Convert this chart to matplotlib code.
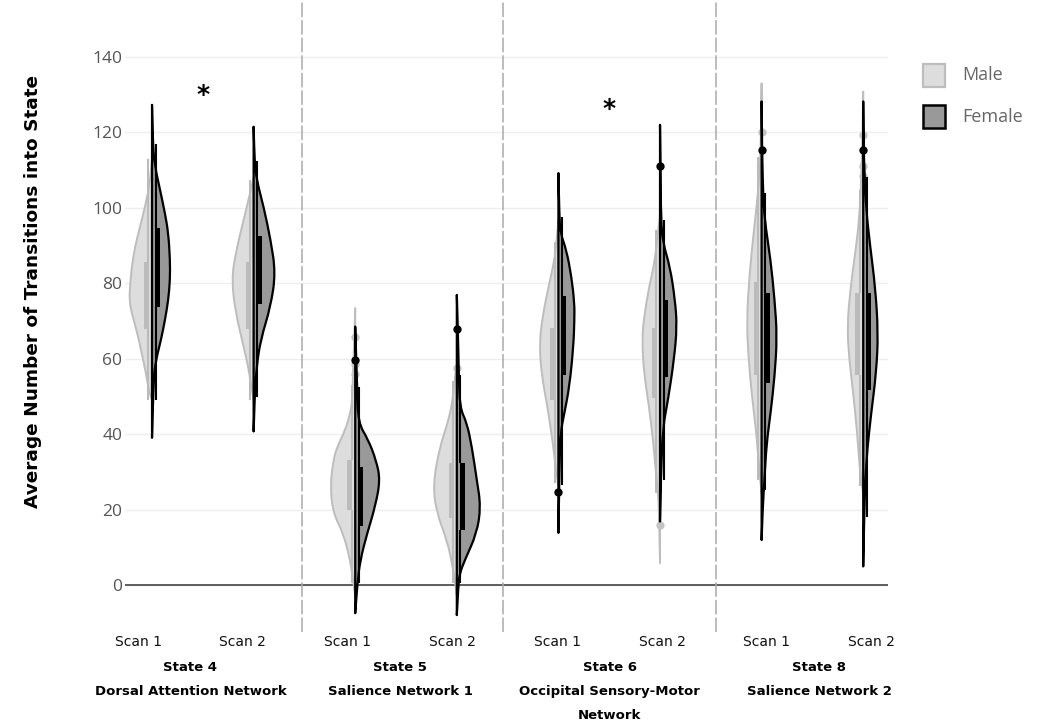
import numpy as np
import matplotlib
matplotlib.use("Agg")
import matplotlib.pyplot as plt
from matplotlib.path import Path
from matplotlib.patches import PathPatch, Rectangle

# ---- data ----
scans = ["Scan 1", "Scan 2"] * 4
states = ["State 4\nDorsal Attention Network", "State 5\nSalience Network 1",
          "State 6\nOccipital Sensory-Motor\nNetwork", "State 8\nSalience Network 2"]

# half violin outlines: y values and half widths (density, read as px)
male_y = [
    [49, 50.8, 56.1, 61.4, 66.8, 72.0, 75.6, 79.1, 84.4, 89.7, 95.0, 100.3, 105.6, 113],
    [49, 56.1, 63.2, 72.1, 80.9, 88, 96.8, 105.6, 108],
    [-3, 0, 6.6, 13.7, 19, 26, 33, 36.7, 41, 45.5, 49, 58, 65, 73.4],
    [-3, 0, 4.8, 12, 19, 26.5, 36.7, 43, 49, 55, 58.5],
    [26, 29.7, 38.5, 47.3, 56, 64, 71, 79, 86, 91, 96.8],
    [5.8, 20, 24.3, 29.7, 38.5, 47.3, 56, 65, 71, 79, 86, 94, 97.6],
    [24.3, 27.8, 33.1, 42, 50.9, 59.7, 70.3, 82.7, 93.3, 104, 113.6, 133],
    [24.3, 29, 40.3, 50.9, 59.7, 68.5, 78.2, 88, 96.8, 104.7, 115, 130.8],
]
male_w = [
    [0, 2.7, 6, 10.3, 14.7, 20.3, 22.7, 22, 20.3, 17, 12, 7, 2.7, 0],
    [0, 4, 10, 18, 22, 18, 10, 2, 0],
    [0, 1.5, 5, 12, 22, 25, 22, 18, 10, 5, 3, 2, 1, 0],
    [0, 1.5, 4, 10, 20, 24, 17, 9, 4, 2, 0],
    [0, 2, 6, 11, 17, 19, 16, 10, 4, 2, 0],
    [0, 1, 2, 4, 7, 11, 16, 18, 16, 11, 5, 2, 0],
    [0, 1.5, 3, 6, 10, 13, 15, 12, 8, 3.5, 1, 0],
    [0, 3, 6, 10, 14, 16, 13, 8, 4, 2.5, 1, 0],
]
female_y = [
    [39, 54.4, 59.7, 65.0, 70.3, 75.6, 80.9, 86.2, 93.3, 98.5, 104.8, 110.9, 116.2, 127.3],
    [40.7, 49.9, 57.9, 65, 73.8, 82.7, 91.5, 100.3, 107.4, 112.3, 121.5],
    [-7.5, 0, 6.6, 13.7, 20.8, 27.8, 33, 38.5, 43, 52, 60, 68.5],
    [-8, 0, 3.1, 6.6, 13.7, 20.8, 27.8, 36.7, 43, 47, 56, 68, 76.9],
    [13.8, 30, 40.3, 45.6, 52.6, 63.2, 70.3, 74.8, 81.8, 88.8, 93.3, 97.6, 109.2],
    [16.8, 30, 42, 49, 59.7, 68.5, 75.6, 84.4, 90.6, 96.8, 111, 122],
    [11.9, 20, 28.7, 37.6, 45.6, 55.2, 65.8, 75.6, 86.2, 96.8, 103.9, 115, 128.2],
    [4.9, 18.1, 27, 35.8, 45.6, 56.2, 66.8, 79.1, 89.7, 99.4, 108.2, 115, 128.2],
]
female_w = [
    [0, 1.3, 4, 9, 13, 16.3, 18, 18, 16.3, 13, 8, 3, 1, 0],
    [0, 1, 3, 7, 17, 22, 17, 10, 3, 1, 0],
    [0, 2, 5, 12, 20, 25, 21, 13, 3, 2, 1, 0],
    [0, 1.5, 3, 8, 20, 24, 20, 15, 10, 3, 2, 1, 0],
    [0, 1, 2, 6, 11, 15, 16, 16, 13, 8, 2, 1, 0],
    [0, 1, 3, 8, 14, 17, 15, 10, 3, 1, 0.5, 0],
    [0, 1, 3, 5, 9, 13, 15.5, 13, 9, 3, 1.5, 0.5, 0],
    [0, 1, 2, 4, 8, 13, 15, 12, 7, 3, 1.5, 0.5, 0],
]

# inner boxes
male_q1 = [67.9, 67.9, 19.9, 17.7, 49, 49.6, 55.7, 55.7]
male_q3 = [85.5, 85.5, 33.1, 32.4, 68.1, 68.1, 80.4, 77.4]
male_lo = [49, 49, 0.5, 0.5, 27, 24.3, 27.8, 26.1]
male_hi = [113, 107.4, 53, 54, 91, 94.1, 113.6, 104.7]
male_out = [[], [], [65.8, 58.5, 56], [57.5], [], [15.9], [120.2], [119.3, 111.1, 108.3]]

female_q1 = [73.8, 74.5, 15.5, 14.6, 55.7, 55.2, 53.6, 51.7]
female_q3 = [94.6, 92.5, 31.4, 32.4, 76.5, 75.6, 77.4, 77.4]
female_lo = [49, 49.9, 0.5, 0.5, 26.5, 27.8, 25.2, 18.1]
female_hi = [117, 112.3, 52.6, 55.7, 97.6, 96.8, 103.9, 108.2]
female_out = [[], [], [59.7], [67.9], [24.7], [111.1], [115.2], [115.2]]

# significance marks (x between scans, y)
star_x = [0.5, 4.5]
star_y = [131.8, 128.3]

# ---- styling ----
PX = 101.6  # px per category
MALE_FILL, MALE_EDGE = "#dddddd", "#bdbdbd"
FEMALE_FILL, FEMALE_EDGE = "#999999", "#000000"


def half_violin(ax, pos, ys, ws, side, fc, ec, lw, z):
    xs = [pos + side * w / PX for w in ws]
    verts = [(pos, ys[0]), (xs[0], ys[0])]
    codes = [Path.MOVETO, Path.LINETO]
    for i in range(1, len(ys) - 1):
        verts += [(xs[i], ys[i]), ((xs[i] + xs[i + 1]) / 2, (ys[i] + ys[i + 1]) / 2)]
        codes += [Path.CURVE3, Path.CURVE3]
    verts += [(xs[-1], ys[-1]), (pos, ys[-1]), (pos, ys[0])]
    codes += [Path.LINETO, Path.LINETO, Path.CLOSEPOLY]
    ax.add_patch(PathPatch(Path(verts, codes), facecolor=fc, edgecolor=ec, lw=lw,
                           joinstyle="round", zorder=z))


def inner_box(ax, pos, q1, q3, lo, hi, outs, side, color, z, pcolor):
    bx = pos + side * 0.053
    wx = pos + side * 0.035
    ax.plot([wx, wx], [lo, q1], color=color, lw=1.5, zorder=z, solid_capstyle="butt")
    ax.plot([wx, wx], [q3, hi], color=color, lw=1.5, zorder=z, solid_capstyle="butt")
    ax.add_patch(Rectangle((bx - 0.025, q1), 0.05, q3 - q1, facecolor=color,
                           edgecolor="none", zorder=z))
    if outs:
        ax.plot([pos] * len(outs), outs, "o", color=pcolor, ms=6, mew=0, zorder=z + 1)


fig = plt.figure(figsize=(10.5, 7.24), dpi=100)
ax = fig.add_axes([125 / 1050, 1 - 620 / 724, 763 / 1050, 620 / 724])

for i in range(8):
    half_violin(ax, i, male_y[i], male_w[i], -1, MALE_FILL, MALE_EDGE, 1.4, 2)
    inner_box(ax, i, male_q1[i], male_q3[i], male_lo[i], male_hi[i], male_out[i],
              -1, "#bbbbbb", 3, "#c4c4c4")
for i in range(8):
    half_violin(ax, i, female_y[i], female_w[i], 1, FEMALE_FILL, FEMALE_EDGE, 1.6, 5)
    inner_box(ax, i, female_q1[i], female_q3[i], female_lo[i], female_hi[i], female_out[i],
              1, "#000000", 6, "#000000")

for sx, sy in zip(star_x, star_y):
    ax.annotate("*", xy=(sx, sy), xytext=(0, -10.4), textcoords="offset points",
                ha="center", va="baseline", fontsize=18, fontweight="bold",
                family="DejaVu Sans")

ax.axhline(0, color="#444444", lw=1.2, zorder=1)
ax.set_yticks(range(0, 141, 20))
ax.yaxis.grid(True, color="#eeeeee", lw=1)
ax.set_axisbelow(True)
ax.set_ylim(-9.3, 155.1)
ax.set_xlim(-0.266, 7.244)
for s in ax.spines.values():
    s.set_visible(False)

tick_pos = (np.arange(8) * 104.8 - 14) / PX
ax.set_xticks(tick_pos)
ax.set_xticklabels(scans, fontsize=10, family="DejaVu Sans", color="#111111")
ax.tick_params(axis="x", length=0, pad=11)
ax.tick_params(axis="y", length=0, pad=2, labelsize=12.5, labelcolor="#555555")
for lab in ax.get_yticklabels():
    lab.set_family("Open Sans")

# group dividers
for dx in [1.476, 3.455, 5.551]:
    ax.axvline(dx, ymin=-0.02, ymax=1, color="#aaaaaa", lw=1.1,
               linestyle=(0, (9.5, 2)), clip_on=False, zorder=1)

# group labels
for g, txt in enumerate(states):
    gx = (tick_pos[2 * g] + tick_pos[2 * g + 1]) / 2
    ax.text(gx, -0.066, txt, transform=ax.get_xaxis_transform(), ha="center", va="top",
            fontsize=9.5, fontweight="bold", family="DejaVu Sans", linespacing=2.1)

fig.text(33 / 1050, 1 - 292 / 724, "Average Number of Transitions into State",
         rotation=90, ha="center", va="center", fontsize=13.3, fontweight="bold",
         family="DejaVu Sans")

# legend
fig.add_artist(Rectangle((923 / 1050, 1 - 87 / 724), 22 / 1050, 23 / 724,
                         transform=fig.transFigure, facecolor=MALE_FILL,
                         edgecolor=MALE_EDGE, lw=1.6))
fig.add_artist(Rectangle((923 / 1050, 1 - 128 / 724), 22 / 1050, 23 / 724,
                         transform=fig.transFigure, facecolor=FEMALE_FILL,
                         edgecolor=FEMALE_EDGE, lw=1.8))
fig.text(962 / 1050, 1 - 75 / 724, "Male", ha="left", va="center", fontsize=13,
         color="#666666", family="Open Sans")
fig.text(962 / 1050, 1 - 117 / 724, "Female", ha="left", va="center", fontsize=13,
         color="#666666", family="Open Sans")

fig.savefig("out.png", dpi=100, facecolor="white")
